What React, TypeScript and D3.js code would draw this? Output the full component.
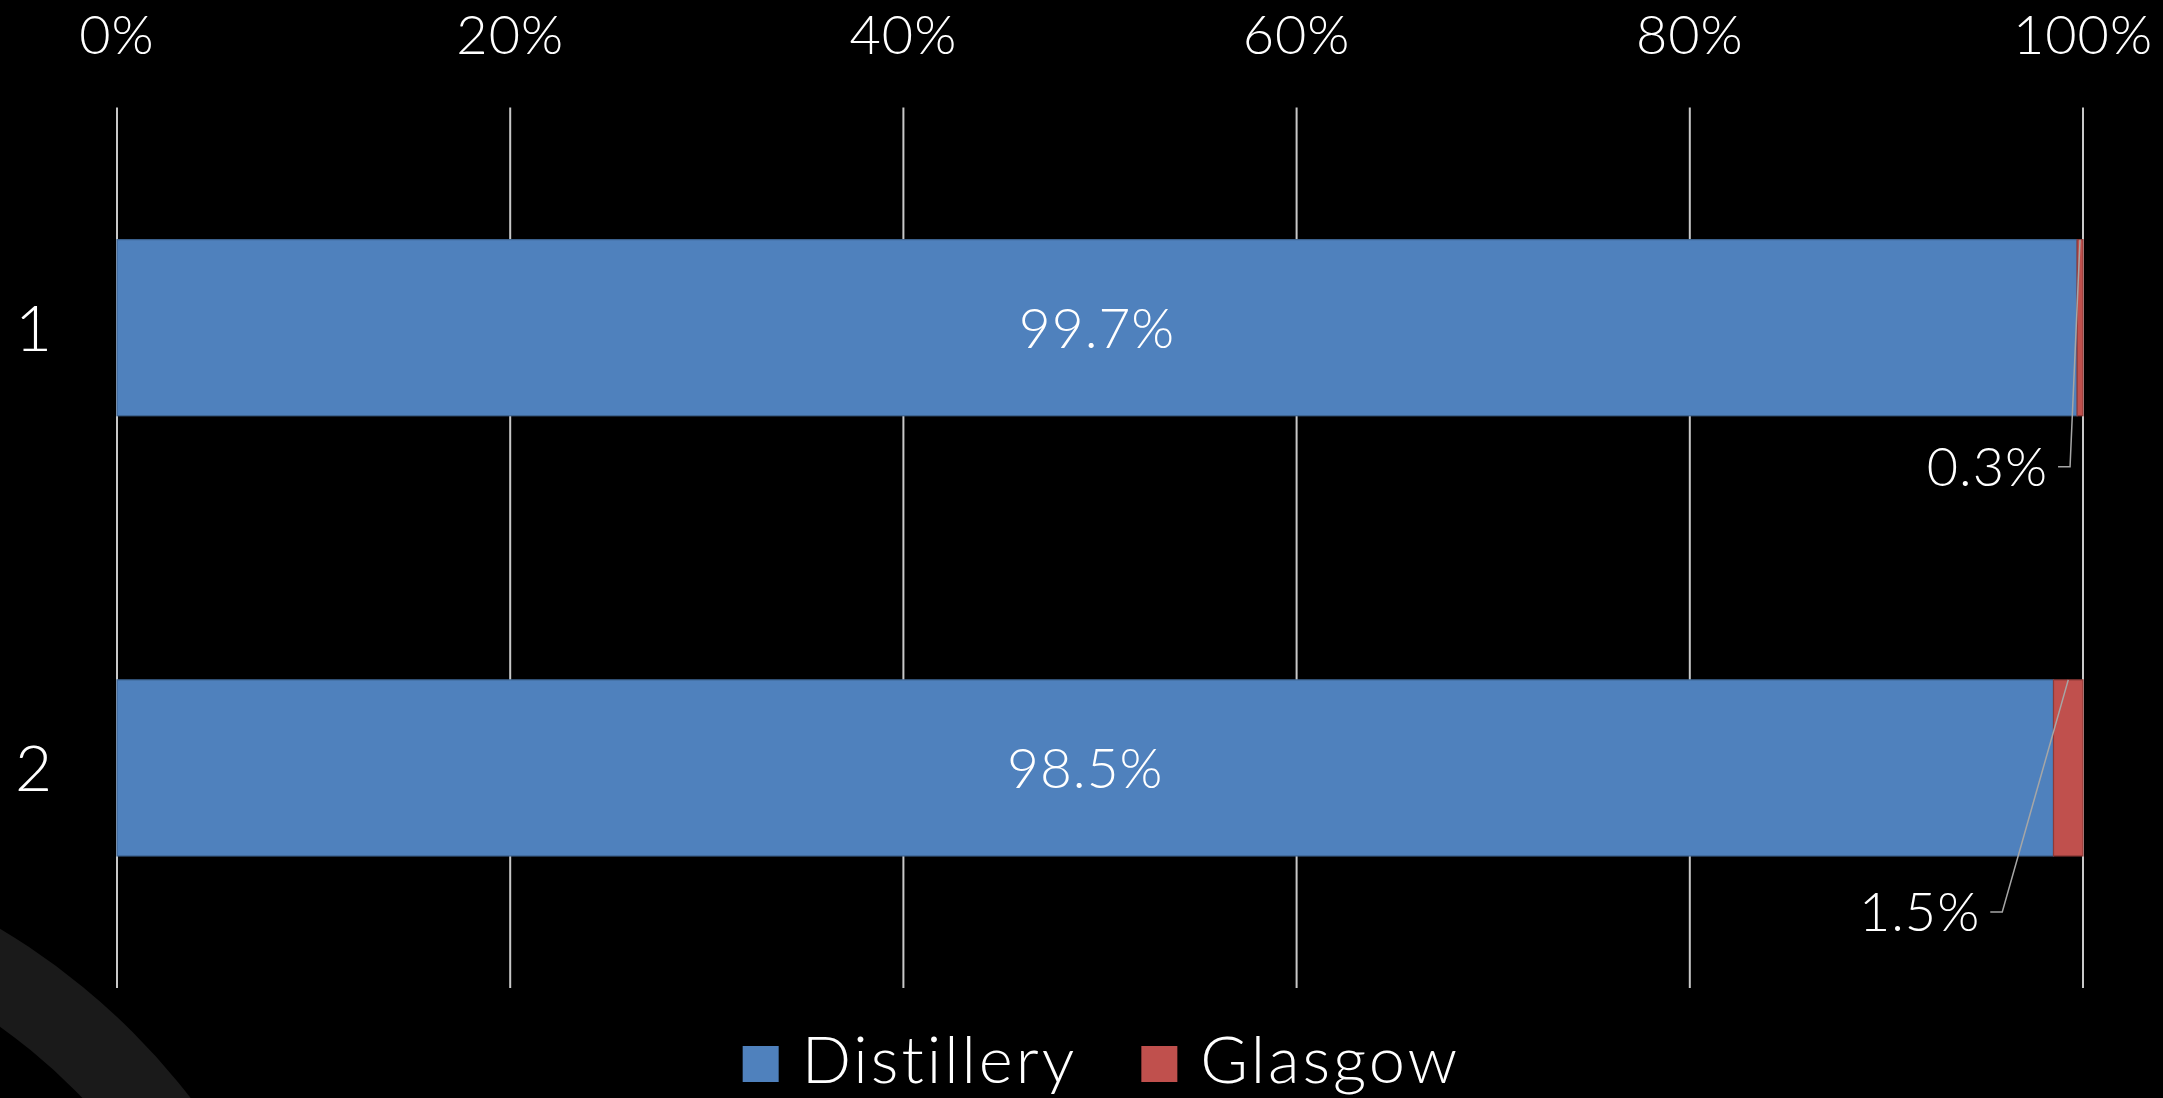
import React, { useEffect, useRef } from "react";
import * as d3 from "d3";

// chart data
const categories = ["1", "2"];
const seriesNames = ["Distillery", "Glasgow"];
const distillery = [0.997, 0.985];
const glasgow = [0.003, 0.015];
const tickValues = [0, 0.2, 0.4, 0.6, 0.8, 1];

const colors = ["#4f81bd", "#c0504d"];
const borders = ["#3e6593", "#8e3a38"];

// hand-placed callouts for the small segment (dx from segment middle, dy from bar bottom)
const calloutOffsets = [
  [-10, 51],
  [-66, 56]
];

const W = 2163;
const H = 1098;
const FONT = "Lato, 'Open Sans', sans-serif";

export default function App() {
  const ref = useRef<SVGSVGElement>(null);

  useEffect(() => {
    document.body.style.margin = "0";
    document.body.style.background = "#000";

    const svg = d3.select(ref.current);
    svg.selectAll("*").remove();

    // decorative ring in the lower-left corner
    svg
      .append("path")
      .attr("transform", "translate(-353,1518)")
      .attr("d", d3.arc()({ innerRadius: 605, outerRadius: 687, startAngle: 0, endAngle: 2 * Math.PI } as any))
      .attr("fill", "#1a1a1a");

    const x = d3.scaleLinear().domain([0, 1]).range([117, 2083]);
    const y = d3
      .scaleBand()
      .domain(categories)
      .range([107.6, 988])
      .paddingInner(0.6)
      .paddingOuter(0.3);

    const rows = categories.map((c, i) => ({
      cat: c,
      Distillery: distillery[i],
      Glasgow: glasgow[i]
    }));
    const stacked = d3.stack<any>().keys(seriesNames)(rows);

    // grid lines
    svg
      .append("g")
      .selectAll("line")
      .data(tickValues)
      .enter()
      .append("line")
      .attr("x1", d => x(d))
      .attr("x2", d => x(d))
      .attr("y1", 107.6)
      .attr("y2", 988)
      .attr("stroke", "#c8c8c8")
      .attr("stroke-width", 2);

    // top axis labels
    svg
      .append("g")
      .selectAll("text")
      .data(tickValues)
      .enter()
      .append("text")
      .attr("x", d => x(d))
      .attr("y", 54)
      .attr("text-anchor", "middle")
      .attr("fill", "#fff")
      .style("font-family", FONT)
      .style("font-weight", 300)
      .style("font-size", "54px")
      .style("letter-spacing", "1px")
      .text(d => d3.format(".0%")(d));

    // category labels
    svg
      .append("g")
      .selectAll("text")
      .data(categories)
      .enter()
      .append("text")
      .attr("x", 52)
      .attr("y", d => y(d)! + y.bandwidth() / 2)
      .attr("dy", "0.36em")
      .attr("text-anchor", "end")
      .attr("fill", "#fff")
      .style("font-family", FONT)
      .style("font-weight", 300)
      .style("font-size", "64px")
      .text(d => d);

    // bars
    stacked.forEach((layer, si) => {
      svg
        .append("g")
        .selectAll("rect")
        .data(layer)
        .enter()
        .append("rect")
        .attr("x", d => x(d[0]))
        .attr("width", d => x(d[1]) - x(d[0]))
        .attr("y", d => y(d.data.cat)!)
        .attr("height", y.bandwidth())
        .attr("fill", colors[si])
        .attr("stroke", borders[si])
        .attr("stroke-width", 1.2);
    });

    // labels inside the big segments
    svg
      .append("g")
      .selectAll("text")
      .data(stacked[0])
      .enter()
      .append("text")
      .attr("x", d => x((d[0] + d[1]) / 2))
      .attr("y", d => y(d.data.cat)! + y.bandwidth() / 2)
      .attr("dy", "0.36em")
      .attr("text-anchor", "middle")
      .attr("fill", "#fff")
      .style("font-family", FONT)
      .style("font-weight", 300)
      .style("font-size", "55px")
      .style("letter-spacing", "1px")
      .text(d => d3.format(".1%")(d[1] - d[0]));

    // callouts for the small segments
    const callouts = svg.append("g");
    stacked[1].forEach((d, i) => {
      const mx = x((d[0] + d[1]) / 2);
      const top = y(d.data.cat)!;
      const ex = mx + calloutOffsets[i][0];
      const ey = top + y.bandwidth() + calloutOffsets[i][1];
      callouts
        .append("path")
        .attr("d", d3.line()([[mx, top], [ex, ey], [ex - 12, ey]]))
        .attr("fill", "none")
        .attr("stroke", "#a6a6a6")
        .attr("stroke-width", 1.5);
      callouts
        .append("text")
        .attr("x", ex - 22)
        .attr("y", ey)
        .attr("dy", "0.36em")
        .attr("text-anchor", "end")
        .attr("fill", "#fff")
        .style("font-family", FONT)
        .style("font-weight", 300)
        .style("font-size", "54px")
        .style("letter-spacing", "1px")
        .text(d3.format(".1%")(d[1] - d[0]));
    });

    // legend, centred under the plot
    const legend = svg.append("g");
    let cx = 0;
    seriesNames.forEach((name, i) => {
      legend
        .append("rect")
        .attr("x", cx)
        .attr("y", 1046)
        .attr("width", 36)
        .attr("height", 36)
        .attr("fill", colors[i]);
      const t = legend
        .append("text")
        .attr("x", cx + 59)
        .attr("y", 1083)
        .attr("fill", "#fff")
        .style("font-family", FONT)
        .style("font-weight", 300)
        .style("font-size", "65px")
        .style("letter-spacing", "3px")
        .text(name);
      const w = (t.node() as SVGTextElement).getComputedTextLength();
      cx += 59 + w + 64;
    });
    const total = cx - 64;
    legend.attr("transform", `translate(${1101.5 - total / 2},0)`);
  }, []);

  return <svg ref={ref} width={W} height={H} style={{ display: "block", background: "#000" }} />;
}
